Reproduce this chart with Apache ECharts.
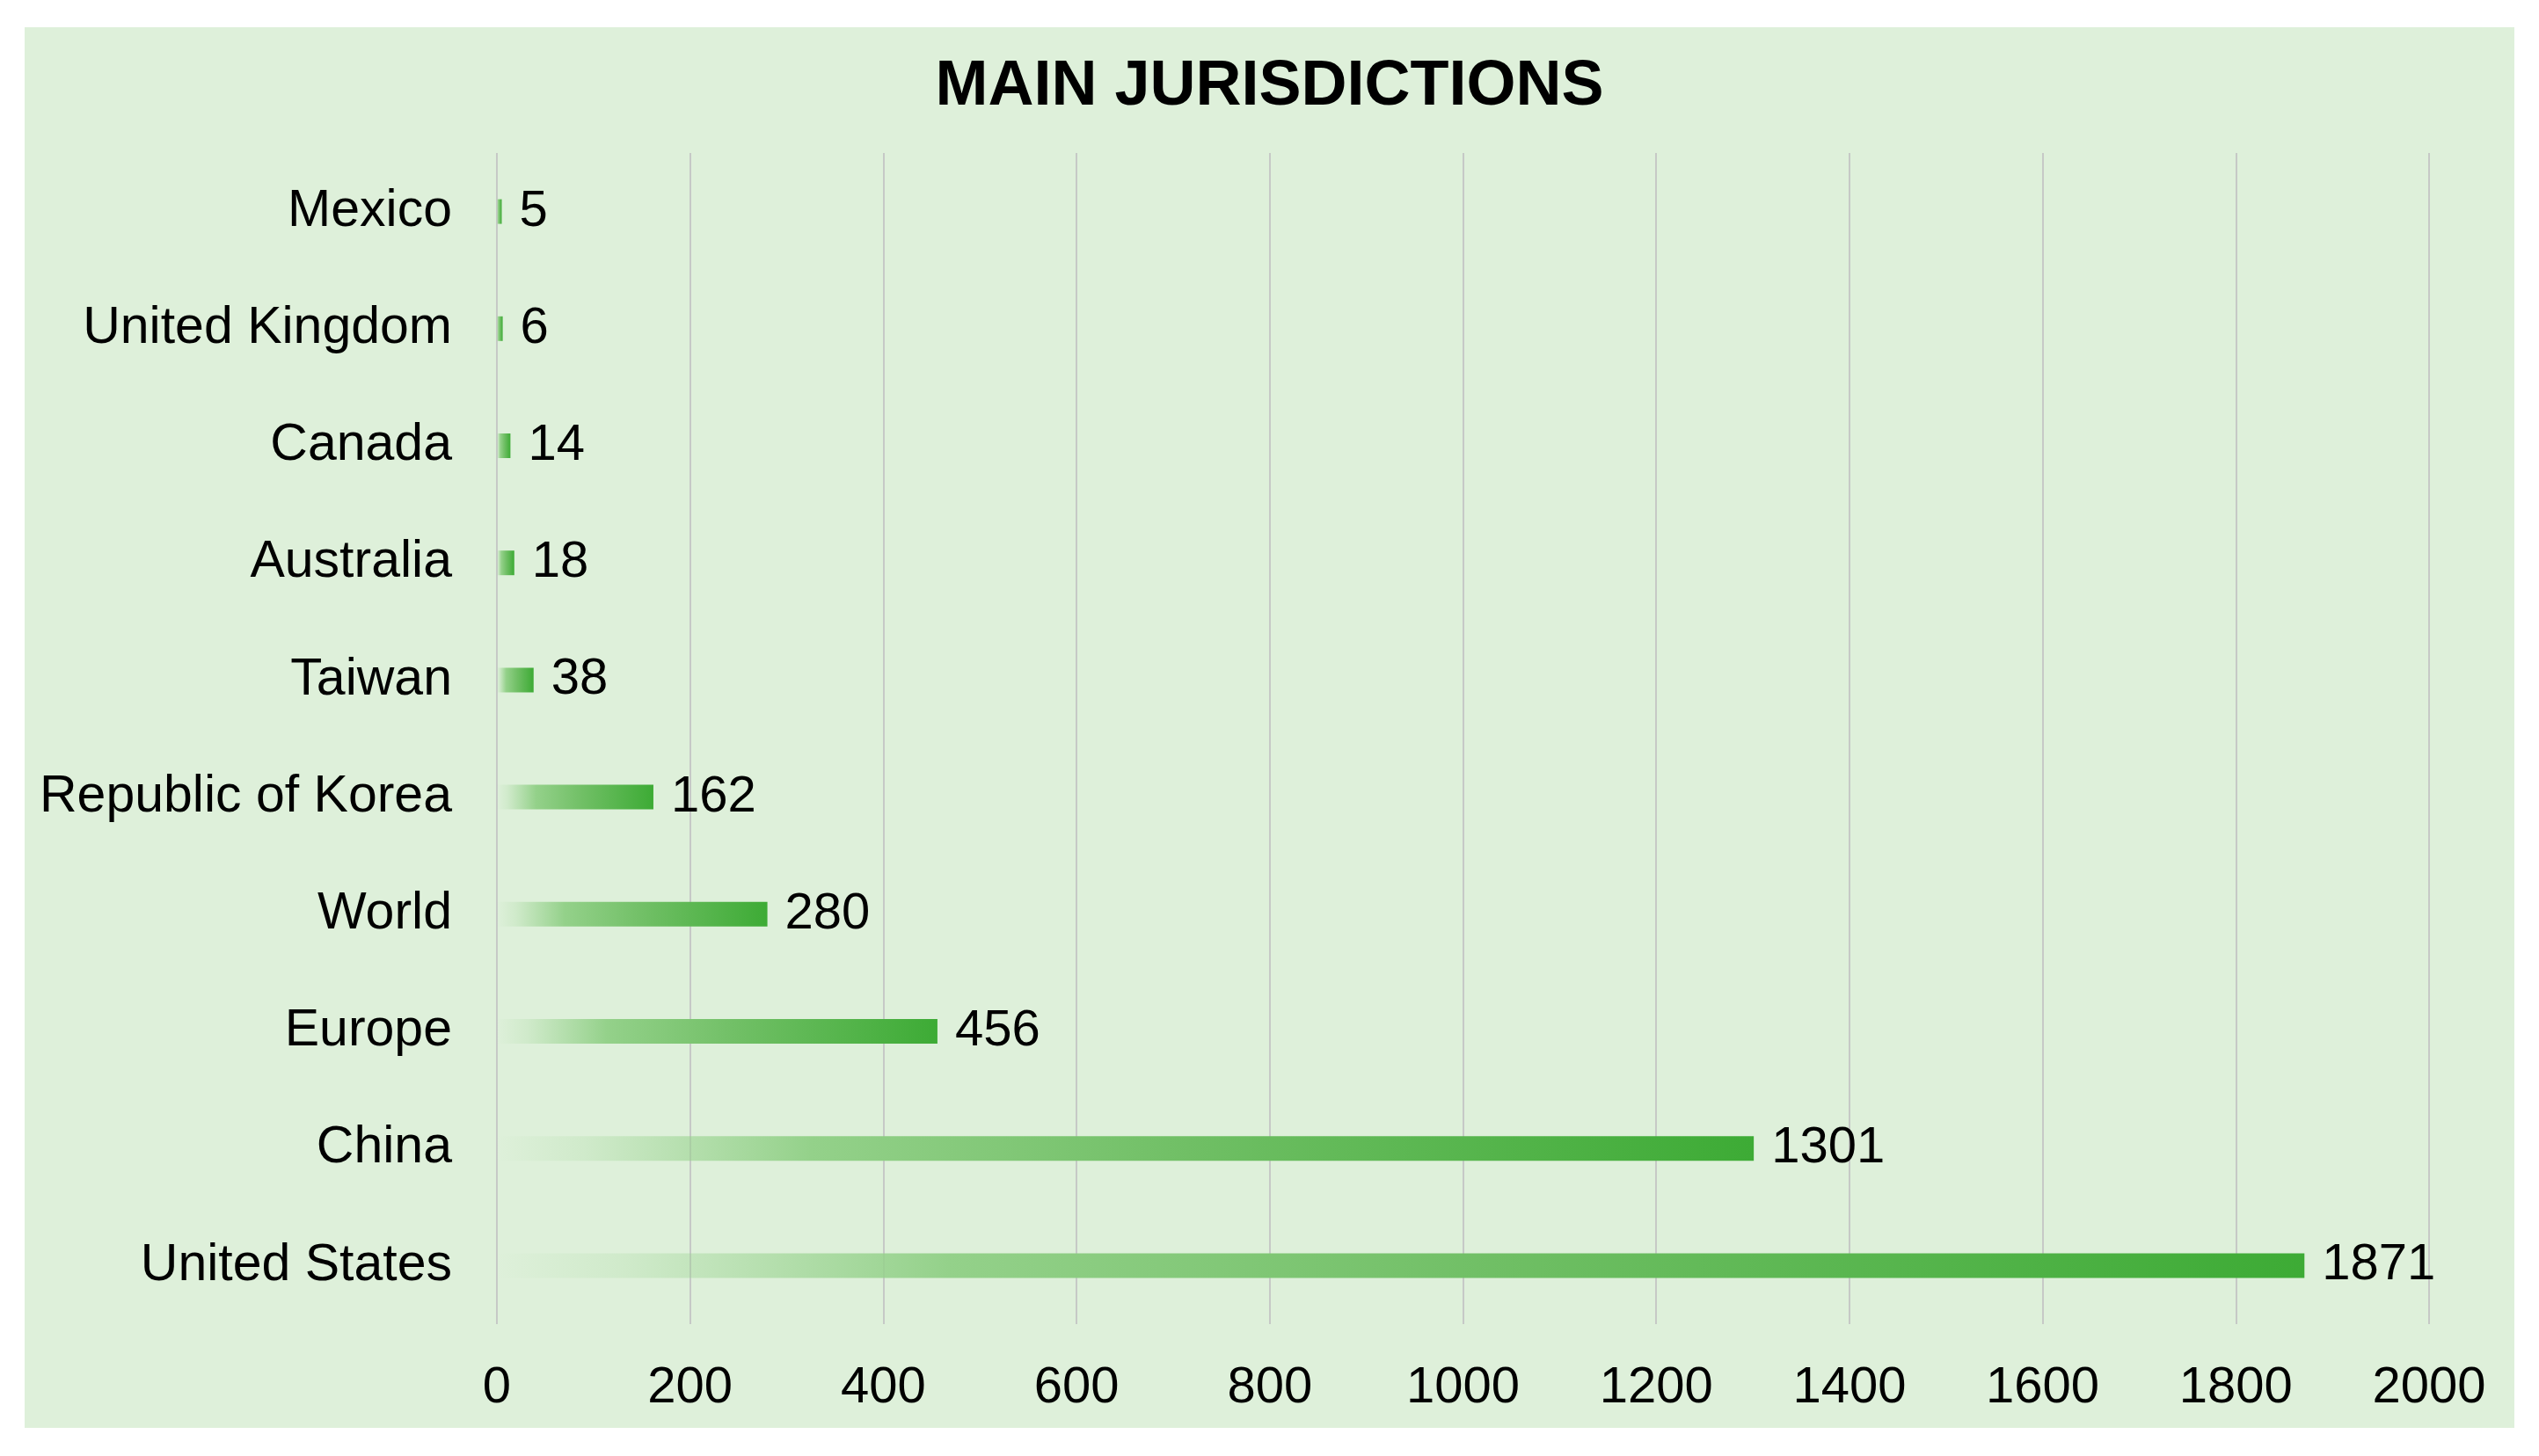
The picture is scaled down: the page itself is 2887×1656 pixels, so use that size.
<!DOCTYPE html>
<html>
<head>
<meta charset="utf-8">
<script src="https://cdn.jsdelivr.net/npm/echarts@6/dist/echarts.min.js"></script>
<style>
html,body{margin:0;padding:0;background:#ffffff;}
#chart{width:2887px;height:1656px;}
</style>
</head>
<body>
<div id="chart"></div>
<script>
const titleText = 'MAIN JURISDICTIONS';
const categories = ['Mexico', 'United Kingdom', 'Canada', 'Australia', 'Taiwan', 'Republic of Korea', 'World', 'Europe', 'China', 'United States'];
const values = [5, 6, 14, 18, 38, 162, 280, 456, 1301, 1871];
const xMin = 0;
const xMax = 2000;
const xStep = 200;

const chart = echarts.init(document.getElementById('chart'), null, {renderer: 'canvas'});
const font = '"Liberation Sans", Arial, sans-serif';

chart.setOption({
  backgroundColor: '#ffffff',
  animation: false,
  graphic: [{
    type: 'rect',
    silent: true,
    z: -100,
    shape: {x: 28, y: 31, width: 2831, height: 1593},
    style: {fill: '#def0da'}
  }],
  title: {
    text: titleText,
    left: 'center',
    top: 58,
    textStyle: {fontFamily: font, fontSize: 72, fontWeight: 'bold', color: '#000000'}
  },
  grid: {left: 565, right: 125, top: 174, bottom: 150, containLabel: false},
  xAxis: {
    type: 'value',
    min: xMin,
    max: xMax,
    interval: xStep,
    axisLine: {show: false},
    axisTick: {show: false},
    splitLine: {show: true, lineStyle: {color: '#c6c9c6', width: 2}},
    axisLabel: {
      fontFamily: font, fontSize: 58, color: '#000000', margin: 44,
      formatter: function (v) { return String(v); }
    }
  },
  yAxis: {
    type: 'category',
    data: categories,
    inverse: true,
    axisLine: {show: false},
    axisTick: {show: false},
    splitLine: {show: false},
    axisLabel: {fontFamily: font, fontSize: 59, color: '#000000', margin: 51}
  },
  series: [{
    type: 'bar',
    data: values,
    barWidth: 28,
    itemStyle: {
      color: new echarts.graphic.LinearGradient(0, 0, 1, 0, [
        {offset: 0, color: 'rgba(150,210,140,0)'},
        {offset: 0.07, color: 'rgba(150,210,140,0.2)'},
        {offset: 0.25, color: 'rgba(148,209,138,1)'},
        {offset: 0.55, color: '#70bf65'},
        {offset: 1, color: '#3dab35'}
      ])
    },
    label: {
      show: true,
      position: 'right',
      distance: 20,
      fontFamily: font,
      fontSize: 58,
      color: '#000000'
    }
  }]
});
</script>
</body>
</html>
